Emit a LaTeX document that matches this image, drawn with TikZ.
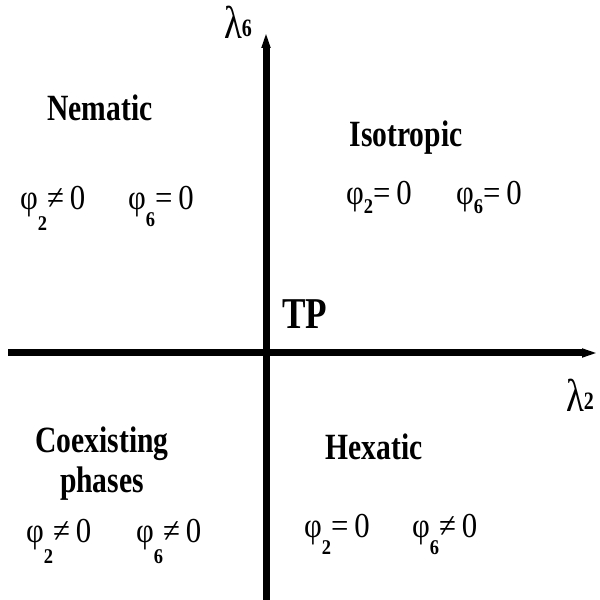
\documentclass[tikz,border=0pt]{standalone}
\usepackage{fontspec}
\setmainfont{Liberation Serif}
\newfontfamily\condfont[FakeStretch=0.8]{Liberation Serif}
\newfontfamily\eqfont[FakeStretch=0.88]{Liberation Serif}
\usetikzlibrary{positioning, arrows.meta}
% phi with a lowered subscript: \phs[drop]{index}
\newcommand{\phs}[2][0.75ex]{φ\raisebox{-#1}{\fontsize{21}{21}\selectfont\bfseries #2}}
\newcommand{\lms}[1]{λ\raisebox{0.1ex}{\fontsize{25}{25}\selectfont\bfseries #1}}
\tikzset{
  every node/.style={inner sep=0pt},
  axis/.style={line width=7pt, -{Triangle[length=16pt, width=8pt]}},
  phase/.style={font=\condfont\bfseries\fontsize{37}{40}\selectfont, align=center},
  eq/.style={font=\eqfont\fontsize{35}{36}\selectfont, anchor=base west},
  lam/.style={font=\condfont\fontsize{46}{46}\selectfont},
}
\begin{document}
\begin{tikzpicture}[x=1pt, y=1pt]
  \useasboundingbox (0,0) rectangle (600,600);
  % axes
  \coordinate (west) at (8,247);
  \coordinate (east) at (598,247);
  \coordinate (south) at (266,0);
  \coordinate (north) at (266,568);
  \draw[axis] (west) -- (east);
  \draw[axis] (south) -- (north);
  \node[lam] (l6) at (238,578) {\lms{6}};
  \node[lam] (l2) at (580,205) {\lms{2}};
  % phases
  \node[phase] (nem) at (100,492) {Nematic};
  \node[phase] (iso) at (406,462) {Isotropic};
  \node[phase, font=\condfont\bfseries\fontsize{44}{44}\selectfont] (tp) at (305,286) {TP};
  \node[phase] (coex) at (102,136) {Coexisting\\phases};
  \node[phase] (hex) at (374,153) {Hexatic};
  % order parameters
  \node[eq] (nem2) at (20,390) {\phs[1.3ex]{2}≠\,0};
  \node[eq] (nem6) at (128,390) {\phs[1ex]{6}=\,0};
  \node[eq] (iso2) at (346,395) {\phs[0.5ex]{2}=\,0};
  \node[eq] (iso6) at (456,395) {\phs[0.5ex]{6}=\,0};
  \node[eq] (coex2) at (26,57) {\phs[1.3ex]{2}≠\,0};
  \node[eq] (coex6) at (136,57) {\phs[1.3ex]{6}≠\,0};
  \node[eq] (hex2) at (304,62) {\phs[1ex]{2}=\,0};
  \node[eq] (hex6) at (412,62) {\phs[1ex]{6}≠\,0};
\end{tikzpicture}
\end{document}
